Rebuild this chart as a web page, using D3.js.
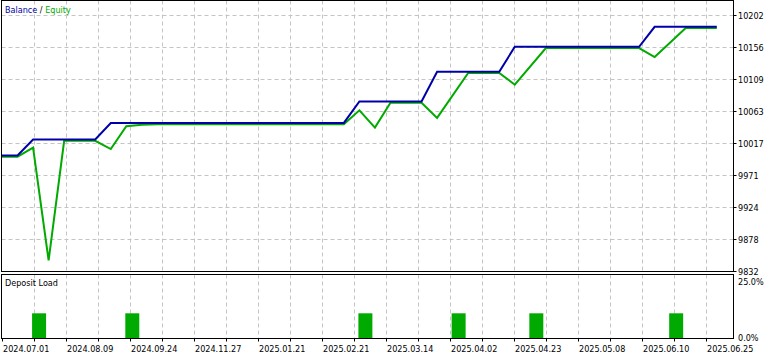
<!DOCTYPE html>
<html><head><meta charset="utf-8">
<script src="https://cdn.jsdelivr.net/npm/d3@7"></script>
<style>
body{margin:0;background:#fff}
svg{display:block}
text{font-family:"DejaVu Sans Condensed","DejaVu Sans",sans-serif;font-stretch:condensed;font-size:9px;fill:#000}
</style>
</head><body>
<svg id="c" width="778" height="355"></svg>
<script>
// ---- data ----
const balanceIdx = [0, 1, 2, 6, 7, 22, 23, 27, 28, 32, 33, 41, 42, 46];
const balanceVal = [10000, 10000, 10023, 10023, 10047, 10047, 10078, 10078, 10121, 10121, 10157, 10157, 10186, 10186];
const equityIdx = [0, 1, 2, 3, 4, 6, 7, 8, 9, 10, 22, 23, 24, 25, 27, 28, 30, 32, 33, 35, 41, 42, 44, 46];
const equityVal = [10000, 10000, 10013, 9850, 10023, 10023, 10011, 10044, 10046, 10047, 10047, 10067, 10042, 10078, 10078, 10056, 10121, 10121, 10104, 10157, 10157, 10144, 10186, 10186];
const loadIdx = [2, 8, 23, 29, 34, 43];
const loadVal = [10, 10, 10, 10, 10, 10];
const dateLabels = ["2024.07.01", "2024.08.09", "2024.09.24", "2024.11.27", "2025.01.21", "2025.02.21",
  "2025.03.14", "2025.04.02", "2025.04.23", "2025.05.08", "2025.06.10", "2025.06.25"];
const yTickValues = [9832.3, 9878.55, 9924.8, 9971.05, 10017.3, 10063.55, 10109.8, 10156.05, 10202.3];
const yTickLabels = ["9832", "9878", "9924", "9971", "10017", "10063", "10109", "10156", "10202"];
const loadTicks = [0, 25];
const loadTickLabels = ["0.0%", "25.0%"];

// ---- layout ----
const svg = d3.select("#c");
const L = 1.5, R = 733.5;
const top1 = 0.5, bot1 = 271.5;
const top2 = 274.5, bot2 = 338.5;
const blue = "#0000a8", green = "#00aa00", gridC = "#c4c4c4";

const x = d3.scaleLinear().domain([0, 46]).range([2, 716.8]);
const y = d3.scaleLinear().domain([9832.3, 10202.3]).range([271.5, 15.5]);
const yLoad = d3.scaleLinear().domain([0, 25]).range([338.5, 275.5]);
// pixel grid: label every other vertical gridline
const nGrid = (dateLabels.length - 1) * 2;
const gx = d3.scaleLinear().domain([0, nGrid]).range([2.5, 2.5 + nGrid * 32]);
const gridKs = d3.range(1, nGrid + 1);

// grid lines
const grid = svg.append("g").attr("stroke", gridC).attr("stroke-dasharray", "4,3").attr("stroke-width", 1);
gridKs.forEach(k => {
  grid.append("line").attr("x1", gx(k)).attr("x2", gx(k)).attr("y1", top1).attr("y2", bot1);
  grid.append("line").attr("x1", gx(k)).attr("x2", gx(k)).attr("y1", top2).attr("y2", bot2);
});
yTickValues.slice(1).forEach(v => {
  grid.append("line").attr("x1", L).attr("x2", R).attr("y1", y(v)).attr("y2", y(v));
});

// deposit load bars
const step = x(1) - x(0);
svg.append("g").selectAll("rect").data(loadIdx).join("rect")
  .attr("x", d => x(d) - 1)
  .attr("width", step * 0.9)
  .attr("y", (d, i) => yLoad(loadVal[i]))
  .attr("height", (d, i) => yLoad(0) - yLoad(loadVal[i]))
  .attr("fill", green);

// lines
const line = d3.line().x(d => x(d[0])).y(d => y(d[1]));
svg.append("path").datum(equityIdx.map((d, i) => [d, equityVal[i]]))
  .attr("d", line).attr("fill", "none").attr("stroke", green).attr("stroke-width", 2)
  .attr("transform", "translate(0,1.2)");
svg.append("path").datum(balanceIdx.map((d, i) => [d, balanceVal[i]]))
  .attr("d", line).attr("fill", "none").attr("stroke", blue).attr("stroke-width", 2);

// panel borders
svg.append("rect").attr("x", L).attr("y", top1).attr("width", R - L).attr("height", bot1 - top1)
  .attr("fill", "none").attr("stroke", "#000");
svg.append("rect").attr("x", L).attr("y", top2).attr("width", R - L).attr("height", bot2 - top2)
  .attr("fill", "none").attr("stroke", "#000");

// right axis (top panel)
const ra = svg.append("g");
yTickValues.forEach((v, i) => {
  ra.append("line").attr("x1", R).attr("x2", R + 3).attr("y1", y(v)).attr("y2", y(v)).attr("stroke", "#000");
  ra.append("text").attr("x", 738).attr("y", y(v)).attr("dy", "0.35em").text(yTickLabels[i]);
});
// right axis (load panel)
ra.append("text").attr("x", 738).attr("y", yLoad(loadTicks[1]) + 6).attr("dy", "0.35em").text(loadTickLabels[1]);
ra.append("text").attr("x", 738).attr("y", yLoad(loadTicks[0]) - 0.5).attr("dy", "0.35em").text(loadTickLabels[0]);

// bottom axis
const ba = svg.append("g");
d3.range(0, nGrid + 1).forEach(k => {
  ba.append("line").attr("x1", gx(k)).attr("x2", gx(k)).attr("y1", bot2).attr("y2", bot2 + 3).attr("stroke", "#000");
});
dateLabels.forEach((t, i) => {
  ba.append("text").attr("x", gx(i * 2) + 0.5).attr("y", 348.5).attr("dy", "0.35em").text(t);
});

// titles
const lg = svg.append("text").attr("x", 5).attr("y", 9.5).attr("dy", "0.35em");
lg.append("tspan").style("fill", blue).text("Balance");
lg.append("tspan").text(" / ");
lg.append("tspan").style("fill", green).text("Equity");
svg.append("text").attr("x", 5).attr("y", 283).attr("dy", "0.35em").text("Deposit Load");
</script>
</body></html>
